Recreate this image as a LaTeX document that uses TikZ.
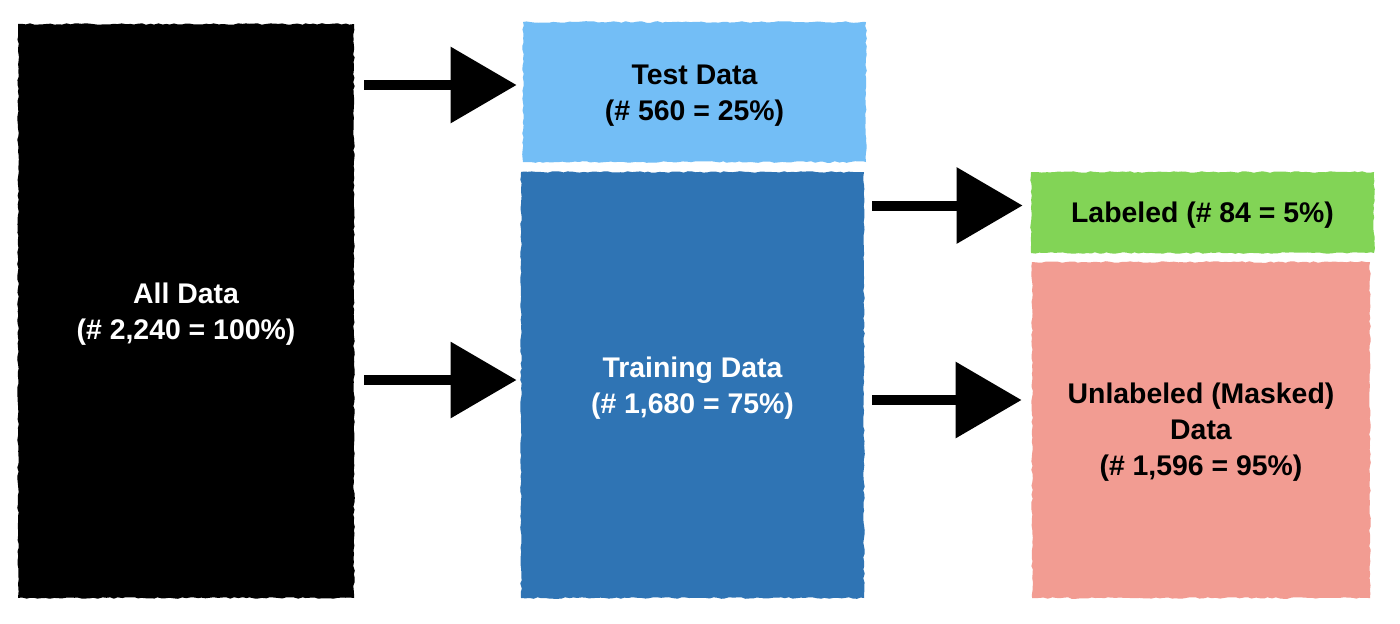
\documentclass[tikz,border=0pt]{standalone}
\usepackage{fontspec}
\setmainfont{Liberation Sans}
\usetikzlibrary{arrows.meta,decorations.pathmorphing}
\definecolor{cTest}{HTML}{73BEF6}
\definecolor{cTrain}{HTML}{2F74B4}
\definecolor{cLab}{HTML}{82D456}
\definecolor{cUnl}{HTML}{F29C92}
\begin{document}
\begin{tikzpicture}[x=0.5pt,y=-0.5pt,
  box/.style={rectangle, inner sep=0pt,
    decorate, decoration={random steps, segment length=2pt, amplitude=0.4pt}},
  txt/.style={inner sep=0pt, align=center,
    font=\fontsize{14.2pt}{18pt}\selectfont\bfseries},
  arr/.style={line width=5pt, black, -{Triangle[length=33pt,width=37pt]}}]
\useasboundingbox[fill=white] (0,0) rectangle (1400,623);
\node[box, fill=black, minimum width=168pt, minimum height=287pt] (all) at (186,311) {};
\node[box, fill=cTest, minimum width=171.5pt, minimum height=70pt] (test) at (694.5,92) {};
\node[box, fill=cTrain, minimum width=171.5pt, minimum height=213pt] (train) at (692.5,385) {};
\node[box, fill=cLab, minimum width=171.5pt, minimum height=40.5pt] (lab) at (1202.5,212.5) {};
\node[box, fill=cUnl, minimum width=169pt, minimum height=168pt] (unl) at (1201,430) {};
\node[txt, text=white] (allt) at ([yshift=-1.8pt]all.center) {All Data\\(\# 2,240 = 100\%)};
\node[txt, text=black] (testt) at ([yshift=-1.8pt]test.center) {Test Data\\(\# 560 = 25\%)};
\node[txt, text=white] (traint) at ([yshift=-1.8pt]train.center) {Training Data\\(\# 1,680 = 75\%)};
\node[txt, text=black] (labt) at ([yshift=-1.5pt]lab.center) {Labeled (\# 84 = 5\%)};
\node[txt, text=black] (unlt) at ([yshift=-1pt]unl.center) {Unlabeled (Masked)\\Data\\(\# 1,596 = 95\%)};
\draw[arr] ([xshift=5pt,yshift=3.5pt]all.east |- test.west) -- ([xshift=-3pt,yshift=3.5pt]test.west);
\draw[arr] ([xshift=5pt,yshift=2.5pt]all.east |- train.west) -- ([xshift=-2pt,yshift=2.5pt]train.west);
\draw[arr] ([xshift=4pt,yshift=3.5pt]train.east |- lab.west) -- ([xshift=-4pt,yshift=3.5pt]lab.west);
\draw[arr] ([xshift=4pt,yshift=15pt]train.east |- unl.west) -- ([xshift=-5pt,yshift=15pt]unl.west);
\end{tikzpicture}
\end{document}
